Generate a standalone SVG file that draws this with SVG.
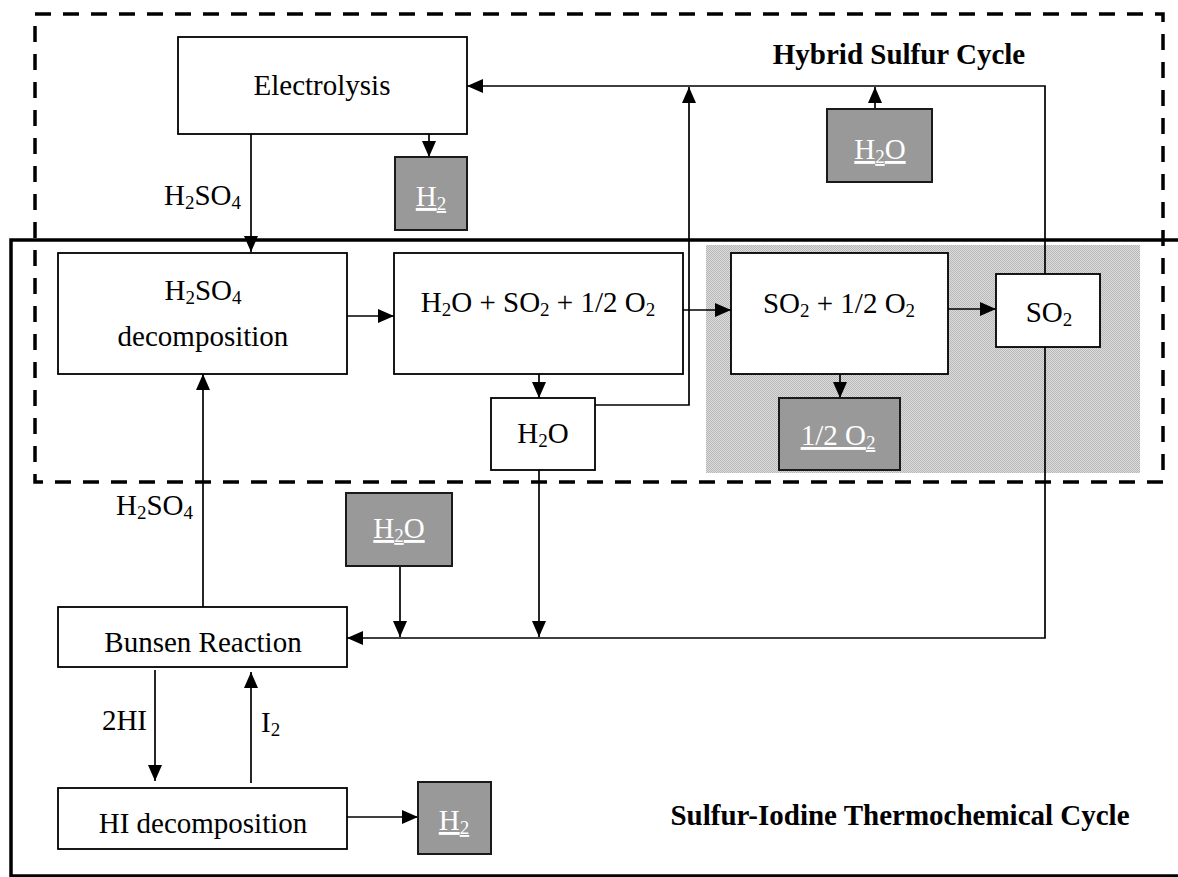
<svg xmlns="http://www.w3.org/2000/svg" width="1178" height="877" viewBox="0 0 1178 877">
<style>
text{font-family:"Liberation Serif","Times New Roman",serif;font-size:29px;fill:#000}
.c{text-anchor:middle}
.b{font-weight:bold}
.w{fill:#fff;text-decoration:underline}
.box{fill:#fff;stroke:#000;stroke-width:1.8}
.gbox{fill:#999;stroke:#1a1a1a;stroke-width:2}
.ln{fill:none;stroke:#000;stroke-width:1.7}
.s{font-size:19px}
</style>
<defs>
<pattern id="dots" width="2" height="2" patternUnits="userSpaceOnUse">
<rect width="2" height="2" fill="#dcdcdc"/>
<rect width="1" height="1" fill="#b8b8b8"/>
<rect x="1" y="1" width="1" height="1" fill="#b8b8b8"/>
</pattern>
<marker id="ah" markerUnits="userSpaceOnUse" markerWidth="16" markerHeight="14" refX="16" refY="7" orient="auto">
<path d="M0,0 L16,7 L0,14 z" fill="#000"/>
</marker>
</defs>
<g id="regions">
<rect x="706" y="245" width="434" height="228" fill="url(#dots)"/>
<rect x="35" y="14" width="1128" height="468" fill="none" stroke="#000" stroke-width="3.5" stroke-dasharray="16 12"/>
<rect x="11" y="240" width="1180" height="636" fill="none" stroke="#000" stroke-width="3.5"/>
<text class="c b" x="899" y="64">Hybrid Sulfur Cycle</text>
<text class="c b" x="900" y="825">Sulfur-Iodine Thermochemical Cycle</text>
</g>
<g id="connectors">
<path class="ln" d="M251,134 V252" marker-end="url(#ah)"/>
<path class="ln" d="M429,134 V157" marker-end="url(#ah)"/>
<path class="ln" d="M1045,274 V86 H467" marker-end="url(#ah)"/>
<path class="ln" d="M875,109 V87" marker-end="url(#ah)"/>
<path class="ln" d="M595,405 H689 V87" marker-end="url(#ah)"/>
<path class="ln" d="M347,316 H394" marker-end="url(#ah)"/>
<path class="ln" d="M683,310 H731" marker-end="url(#ah)"/>
<path class="ln" d="M948,309 H996" marker-end="url(#ah)"/>
<path class="ln" d="M539,374 V398" marker-end="url(#ah)"/>
<path class="ln" d="M840,374 V398" marker-end="url(#ah)"/>
<path class="ln" d="M1045,347 V638 H347" marker-end="url(#ah)"/>
<path class="ln" d="M400,566 V637" marker-end="url(#ah)"/>
<path class="ln" d="M539,470 V637" marker-end="url(#ah)"/>
<path class="ln" d="M203,607 V374" marker-end="url(#ah)"/>
<path class="ln" d="M155,670 V781" marker-end="url(#ah)"/>
<path class="ln" d="M251,783 V672" marker-end="url(#ah)"/>
<path class="ln" d="M347,817 H418" marker-end="url(#ah)"/>
<text x="241" y="205" text-anchor="end">H<tspan class="s" dy="4">2</tspan><tspan dy="-4">SO</tspan><tspan class="s" dy="4">4</tspan></text>
<text x="193" y="515" text-anchor="end">H<tspan class="s" dy="4">2</tspan><tspan dy="-4">SO</tspan><tspan class="s" dy="4">4</tspan></text>
<text x="147" y="730" text-anchor="end">2HI</text>
<text x="261" y="732">I<tspan class="s" dy="4">2</tspan></text>
</g>
<g id="electrolysis">
<rect class="box" x="178" y="37" width="289" height="97"/>
<text class="c" x="322" y="95">Electrolysis</text>
</g>
<g id="h2-top">
<rect class="gbox" x="395" y="157" width="72" height="73"/>
<text class="c w" x="431" y="206">H<tspan class="s" dy="4">2</tspan></text>
</g>
<g id="h2o-top">
<rect class="gbox" x="827" y="109" width="105" height="73"/>
<text class="c w" x="880" y="159">H<tspan class="s" dy="4">2</tspan><tspan dy="-4">O</tspan></text>
</g>
<g id="h2so4-decomposition">
<rect class="box" x="58" y="253" width="289" height="121"/>
<text class="c" x="203" y="300">H<tspan class="s" dy="4">2</tspan><tspan dy="-4">SO</tspan><tspan class="s" dy="4">4</tspan></text>
<text class="c" x="203" y="346">decomposition</text>
</g>
<g id="h2o-so2-o2">
<rect class="box" x="394" y="253" width="289" height="121"/>
<text class="c" x="538" y="312">H<tspan class="s" dy="4">2</tspan><tspan dy="-4">O + SO</tspan><tspan class="s" dy="4">2</tspan><tspan dy="-4"> + 1/2 O</tspan><tspan class="s" dy="4">2</tspan></text>
</g>
<g id="so2-o2">
<rect class="box" x="731" y="253" width="217" height="121"/>
<text class="c" x="839" y="313">SO<tspan class="s" dy="4">2</tspan><tspan dy="-4"> + 1/2 O</tspan><tspan class="s" dy="4">2</tspan></text>
</g>
<g id="so2">
<rect class="box" x="996" y="274" width="104" height="73"/>
<text class="c" x="1049" y="322">SO<tspan class="s" dy="4">2</tspan></text>
</g>
<g id="h2o-mid">
<rect class="box" x="491" y="398" width="104" height="72"/>
<text class="c" x="543" y="443">H<tspan class="s" dy="4">2</tspan><tspan dy="-4">O</tspan></text>
</g>
<g id="half-o2">
<rect class="gbox" x="779" y="398" width="121" height="72"/>
<text class="c w" x="838" y="445">1/2 O<tspan class="s" dy="4">2</tspan></text>
</g>
<g id="h2o-low">
<rect class="gbox" x="346" y="493" width="106" height="73"/>
<text class="c w" x="399" y="538">H<tspan class="s" dy="4">2</tspan><tspan dy="-4">O</tspan></text>
</g>
<g id="bunsen">
<rect class="box" x="58" y="607" width="289" height="60"/>
<text class="c" x="203" y="652">Bunsen Reaction</text>
</g>
<g id="hi-decomposition">
<rect class="box" x="58" y="788" width="289" height="61"/>
<text class="c" x="203" y="833">HI decomposition</text>
</g>
<g id="h2-low">
<rect class="gbox" x="418" y="782" width="73" height="72"/>
<text class="c w" x="454" y="830">H<tspan class="s" dy="4">2</tspan></text>
</g>
</svg>
